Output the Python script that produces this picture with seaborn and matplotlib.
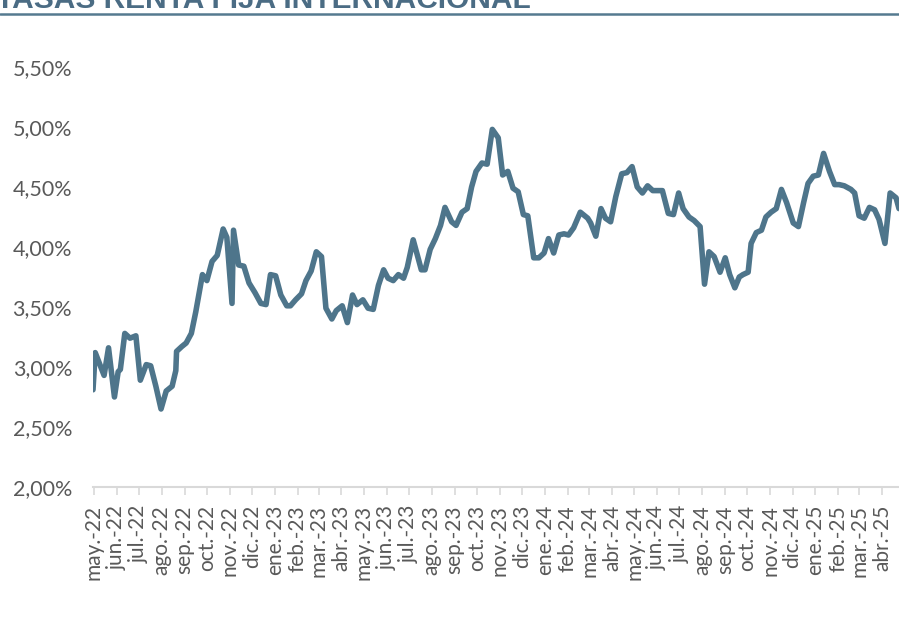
import matplotlib
matplotlib.use('Agg')
import matplotlib.pyplot as plt
from matplotlib.lines import Line2D
import seaborn as sns
import pandas as pd

# lecturas aproximadas del grafico original
fechas = [
    '2022-04-30', '2022-05-03', '2022-05-15', '2022-05-21', '2022-05-29', '2022-06-03', '2022-06-06',
    '2022-06-12', '2022-06-19', '2022-06-27', '2022-07-03', '2022-07-11', '2022-07-17', '2022-07-24',
    '2022-07-31', '2022-08-07', '2022-08-15', '2022-08-20', '2022-08-21', '2022-08-28', '2022-09-03',
    '2022-09-10', '2022-09-16', '2022-09-25', '2022-10-01', '2022-10-08', '2022-10-15', '2022-10-23',
    '2022-10-28', '2022-11-04', '2022-11-06', '2022-11-13', '2022-11-20', '2022-11-27', '2022-12-05',
    '2022-12-13', '2022-12-20', '2022-12-26', '2023-01-02', '2023-01-09', '2023-01-17', '2023-01-22',
    '2023-01-29', '2023-02-06', '2023-02-12', '2023-02-19', '2023-02-26', '2023-03-05', '2023-03-11',
    '2023-03-19', '2023-03-25', '2023-04-02', '2023-04-09', '2023-04-16', '2023-04-22', '2023-04-30',
    '2023-05-07', '2023-05-14', '2023-05-21', '2023-05-28', '2023-06-03', '2023-06-10', '2023-06-17',
    '2023-06-24', '2023-06-29', '2023-07-07', '2023-07-18', '2023-07-23', '2023-07-30', '2023-08-06',
    '2023-08-13', '2023-08-19', '2023-08-28', '2023-09-03', '2023-09-11', '2023-09-18', '2023-09-24',
    '2023-09-30', '2023-10-08', '2023-10-15', '2023-10-22', '2023-10-30', '2023-11-05', '2023-11-12',
    '2023-11-19', '2023-11-26', '2023-12-03', '2023-12-09', '2023-12-17', '2023-12-24', '2023-12-31',
    '2024-01-06', '2024-01-13', '2024-01-20', '2024-01-27', '2024-02-02', '2024-02-09', '2024-02-18',
    '2024-02-28', '2024-03-03', '2024-03-10', '2024-03-17', '2024-03-23', '2024-03-30', '2024-04-06',
    '2024-04-14', '2024-04-21', '2024-04-28', '2024-05-05', '2024-05-12', '2024-05-19', '2024-05-26',
    '2024-06-01', '2024-06-08', '2024-06-16', '2024-06-23', '2024-06-30', '2024-07-06', '2024-07-14',
    '2024-07-21', '2024-07-29', '2024-08-04', '2024-08-10', '2024-08-17', '2024-08-25', '2024-09-01',
    '2024-09-07', '2024-09-14', '2024-09-20', '2024-09-25', '2024-10-02', '2024-10-06', '2024-10-13',
    '2024-10-20', '2024-10-26', '2024-11-02', '2024-11-09', '2024-11-16', '2024-11-23', '2024-12-02',
    '2024-12-09', '2024-12-16', '2024-12-22', '2024-12-29', '2025-01-05', '2025-01-12', '2025-01-20',
    '2025-01-27', '2025-02-02', '2025-02-09', '2025-02-18', '2025-02-23', '2025-03-01', '2025-03-08',
    '2025-03-15', '2025-03-22', '2025-03-28', '2025-04-05', '2025-04-12', '2025-04-20', '2025-04-24',
]

tasas = [
    2.81, 3.12, 2.93, 3.16, 2.75, 2.96, 2.98,
    3.28, 3.24, 3.26, 2.89, 3.02, 3.01, 2.84,
    2.65, 2.80, 2.84, 2.97, 3.13, 3.17, 3.20,
    3.28, 3.46, 3.77, 3.72, 3.88, 3.93, 4.15,
    4.08, 3.53, 4.14, 3.85, 3.84, 3.70, 3.62,
    3.53, 3.52, 3.77, 3.76, 3.60, 3.51, 3.51,
    3.56, 3.61, 3.72, 3.80, 3.96, 3.92, 3.49,
    3.40, 3.47, 3.51, 3.37, 3.60, 3.52, 3.56,
    3.49, 3.48, 3.68, 3.81, 3.74, 3.72, 3.77,
    3.74, 3.83, 4.06, 3.81, 3.81, 3.98, 4.07,
    4.18, 4.33, 4.21, 4.18, 4.29, 4.32, 4.50,
    4.63, 4.70, 4.69, 4.98, 4.91, 4.60, 4.63,
    4.49, 4.46, 4.27, 4.26, 3.91, 3.91, 3.95,
    4.07, 3.95, 4.10, 4.11, 4.10, 4.16, 4.29,
    4.24, 4.20, 4.09, 4.32, 4.24, 4.21, 4.42,
    4.61, 4.62, 4.67, 4.50, 4.45, 4.51, 4.47,
    4.47, 4.47, 4.28, 4.27, 4.45, 4.32, 4.25,
    4.22, 4.17, 3.69, 3.96, 3.92, 3.79, 3.91,
    3.77, 3.66, 3.75, 3.77, 3.79, 4.03, 4.12,
    4.14, 4.25, 4.29, 4.32, 4.48, 4.37, 4.20,
    4.17, 4.37, 4.53, 4.59, 4.60, 4.78, 4.63,
    4.52, 4.52, 4.51, 4.48, 4.45, 4.26, 4.24,
    4.33, 4.31, 4.23, 4.03, 4.45, 4.41, 4.32,
]

meses = ['ene.', 'feb.', 'mar.', 'abr.', 'may.', 'jun.', 'jul.', 'ago.', 'sep.', 'oct.', 'nov.', 'dic.']
y_ticks = [2.0, 2.5, 3.0, 3.5, 4.0, 4.5, 5.0, 5.5]

sns.set_theme(style='white')
plt.rcParams['font.family'] = ['Lato', 'DejaVu Sans']

df = pd.DataFrame({'fecha': pd.to_datetime(fechas), 'tasa': tasas})

fig = plt.figure(figsize=(8.99, 6.29), dpi=100)
ax = fig.add_axes([93 / 899, 1 - 487 / 629, (899 - 93) / 899, 420 / 629])
sns.lineplot(data=df, x='fecha', y='tasa', ax=ax, color='#4E758B', linewidth=4)

ax.set_xlim(df['fecha'].iloc[0], df['fecha'].iloc[-1])
ax.set_ylim(2, 5.5)
ax.set_yticks(y_ticks)
ax.set_yticklabels([f'{v:.2f}%'.replace('.', ',') for v in y_ticks])

ticks = pd.date_range('2022-05-01', '2025-04-01', freq='MS')
ax.set_xticks(ticks)
ax.set_xticklabels([f"{meses[d.month - 1]}-{d.strftime('%y')}" for d in ticks], rotation=90)

ax.tick_params(axis='y', left=False, length=0, pad=15, labelsize=15.5, labelcolor='#595959')
ax.tick_params(axis='x', bottom=True, length=6, width=1.2, color='#d9d9d9', direction='out',
               pad=7, labelsize=15, labelcolor='#595959')
for s in ['left', 'right', 'top']:
    ax.spines[s].set_visible(False)
ax.spines['bottom'].set_color('#d9d9d9')
ax.spines['bottom'].set_linewidth(1.5)
ax.set_xlabel('')
ax.set_ylabel('')

# titulo cortado arriba, como en la imagen original
fig.text(-0.004, 1 - 8 / 629, 'TASAS RENTA FIJA INTERNACIONAL', fontsize=21.5, fontweight='bold',
         color='#4B6C84', va='baseline', ha='left', family=['Liberation Sans', 'DejaVu Sans'])
fig.add_artist(Line2D([0, 1], [1 - 14 / 629, 1 - 14 / 629], transform=fig.transFigure,
                      color='#557A90', linewidth=1.8))

fig.savefig('out.png', dpi=100)
